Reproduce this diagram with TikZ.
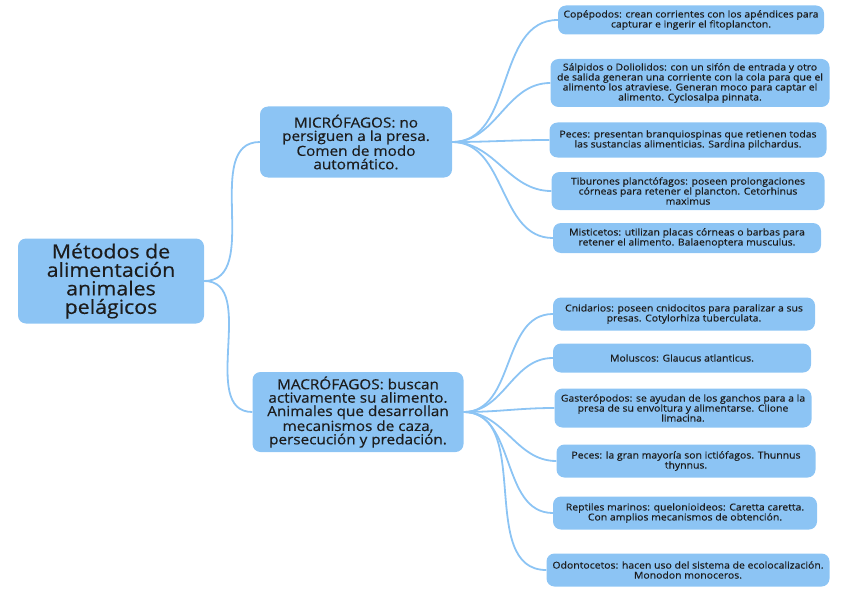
\documentclass[tikz,border=0pt]{standalone}
\usepackage{fontspec}
\setmainfont[FakeStretch=1.1,FakeBold=0.4]{Open Sans}
\usetikzlibrary{positioning}
\definecolor{boxblue}{RGB}{140,196,244}
\definecolor{textdark}{RGB}{28,28,28}

\begin{document}
\begin{tikzpicture}[x=1pt,y=-1pt,
  box/.style={fill=boxblue,rounded corners=8pt,align=center,inner sep=1pt,text=textdark},
  rootbox/.style={box,font=\fontsize{19.4}{18.5}\selectfont,minimum width=186pt,minimum height=85pt},
  midbox/.style={box,font=\fontsize{13.9}{13.4}\selectfont},
  leafbox/.style={box,font=\fontsize{9.5}{10}\selectfont},
  link/.style={boxblue,line width=1.8pt}]
  \useasboundingbox (0,0) rectangle (848,599);

  % centre and first branches
  \node[rootbox] (root) at (111,281) {Métodos de\\alimentación\\animales\\pelágicos};
  \node[midbox,minimum width=192pt,minimum height=71pt] (micro) at (356,142)
    {MICRÓFAGOS: no\\persiguen a la presa.\\Comen de modo\\automático.};
  \node[midbox,minimum width=211pt,minimum height=80pt] (macro) at (358,412)
    {MACRÓFAGOS: buscan\\activamente su alimento.\\Animales que desarrollan\\mecanismos de caza,\\persecución y predación.};

  % leaves of the microphages
  \node[leafbox,minimum width=266pt,minimum height=29pt] (copepodos) at (691,20)
    {Copépodos: crean corrientes con los apéndices para\\capturar e ingerir el fitoplancton.};
  \node[leafbox,minimum width=279pt,minimum height=48pt] (salpidos) at (690,83)
    {Sálpidos o Doliolidos: con un sifón de entrada y otro\\de salida generan una corriente con la cola para que el\\alimento los atraviese. Generan moco para captar el\\alimento. Cyclosalpa pinnata.};
  \node[leafbox,minimum width=277pt,minimum height=35pt] (pecesmicro) at (688,140)
    {Peces: presentan branquiospinas que retienen todas\\las sustancias alimenticias. Sardina pilchardus.};
  \node[leafbox,minimum width=273pt,minimum height=38pt] (tiburones) at (688,191)
    {Tiburones planctófagos: poseen prolongaciones\\córneas para retener el plancton. Cetorhinus\\maximus};
  \node[leafbox,minimum width=268pt,minimum height=30pt] (misticetos) at (687,238)
    {Misticetos: utilizan placas córneas o barbas para\\retener el alimento. Balaenoptera musculus.};

  % leaves of the macrophages
  \node[leafbox,minimum width=262pt,minimum height=33pt] (cnidarios) at (684,314)
    {Cnidarios: poseen cnidocitos para paralizar a sus\\presas. Cotylorhiza tuberculata.};
  \node[leafbox,minimum width=258pt,minimum height=29pt] (moluscos) at (682,358)
    {Moluscos: Glaucus atlanticus.};
  \node[leafbox,minimum width=257pt,minimum height=39pt] (gasteropodos) at (683,408)
    {Gasterópodos: se ayudan de los ganchos para a la\\presa de su envoltura y alimentarse. Clione\\limacina.};
  \node[leafbox,minimum width=259pt,minimum height=33pt] (pecesmacro) at (686,461)
    {Peces: la gran mayoría son ictiófagos. Thunnus\\thynnus.};
  \node[leafbox,minimum width=264pt,minimum height=33pt] (reptiles) at (685,513)
    {Reptiles marinos: quelonioideos: Caretta caretta.\\Con amplios mecanismos de obtención.};
  \node[leafbox,minimum width=283pt,minimum height=33pt] (odontocetos) at (688,570)
    {Odontocetos: hacen uso del sistema de ecolocalización.\\Monodon monoceros.};

  % connectors
  \foreach \kid in {micro,macro}
    \draw[link] (root.east) to[out=0,in=180] (\kid.west);
  \foreach \kid in {copepodos,salpidos,pecesmicro,tiburones,misticetos}
    \draw[link] (micro.east) to[out=0,in=180] (\kid.west);
  \foreach \kid in {cnidarios,moluscos,gasteropodos,pecesmacro,reptiles,odontocetos}
    \draw[link] (macro.east) to[out=0,in=180] (\kid.west);
\end{tikzpicture}
\end{document}
